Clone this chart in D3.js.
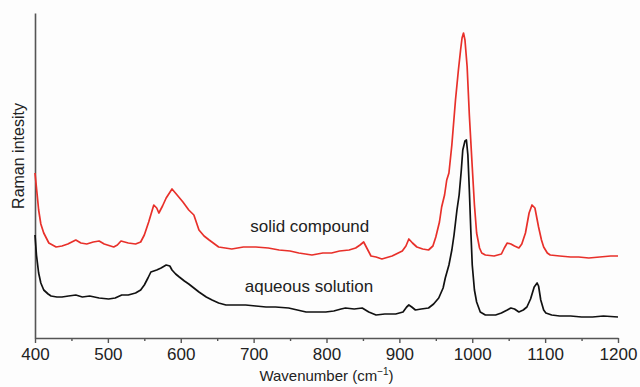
<!DOCTYPE html>
<html>
<head>
<meta charset="utf-8">
<script src="https://cdn.jsdelivr.net/npm/d3@7"></script>
<style>
  html, body { margin: 0; padding: 0; background: #fdfdfd; }
  svg { display: block; font-family: "Liberation Sans", Arial, sans-serif; }
</style>
</head>
<body>
<div id="chart"></div>
<script>
// wavenumber (cm-1) and intensity (a.u.)
const solidWn = [400, 403, 405, 408, 412, 419, 429, 437, 445, 456, 463, 471, 480, 488, 495, 508, 513, 518, 528, 538, 545, 550, 556, 563, 567, 570, 575, 580, 588, 595, 603, 611, 618, 625, 632, 639, 652, 670, 686, 703, 720, 735, 750, 762, 780, 795, 807, 818, 831, 840, 846, 851, 856, 861, 868, 876, 890, 904, 909, 913, 918, 924, 932, 940, 946, 950, 955, 958, 962, 965, 968, 972, 977, 981, 984, 986, 988, 990, 993, 996, 1000, 1003, 1006, 1010, 1013, 1018, 1030, 1040, 1044, 1048, 1053, 1058, 1064, 1068, 1073, 1078, 1082, 1086, 1091, 1095, 1098, 1103, 1107, 1120, 1135, 1146, 1160, 1175, 1190, 1200];
const solidInt = [165, 143, 128, 114, 105, 95, 91, 92, 94, 98, 95, 94, 96, 97, 94, 91, 93, 97, 95, 94, 96, 103, 116, 133, 130, 125, 132, 140, 149, 143, 136, 128, 123, 108, 102, 98, 91, 89, 91, 91, 90, 88, 87, 85, 83, 85, 85, 87, 88, 90, 93, 96, 89, 82, 81, 79, 82, 87, 92, 99, 95, 91, 89, 88, 92, 101, 116, 131, 143, 158, 165, 193, 238, 268, 288, 300, 305, 298, 271, 223, 171, 133, 105, 90, 85, 83, 82, 84, 90, 95, 94, 92, 90, 94, 105, 125, 133, 130, 111, 98, 91, 85, 83, 82, 81, 81, 80, 81, 82, 82];

const aqueousWn = [400, 402, 405, 408, 412, 418, 422, 430, 437, 446, 456, 465, 475, 488, 501, 510, 519, 528, 538, 545, 550, 555, 559, 567, 573, 580, 585, 588, 593, 598, 605, 611, 618, 625, 635, 643, 652, 662, 675, 689, 703, 717, 730, 748, 760, 772, 785, 799, 810, 820, 826, 838, 849, 858, 868, 880, 895, 905, 910, 913, 917, 922, 930, 940, 947, 954, 960, 963, 968, 972, 975, 979, 982, 985, 987, 990, 992, 994, 996, 998, 1000, 1003, 1006, 1011, 1018, 1025, 1032, 1040, 1048, 1053, 1058, 1064, 1070, 1075, 1080, 1085, 1089, 1091, 1094, 1098, 1101, 1109, 1120, 1135, 1150, 1165, 1180, 1200];
const aqueousInt = [103, 83, 65, 55, 48, 44, 42, 41, 41, 42, 43, 41, 42, 40, 39, 40, 43, 43, 45, 48, 53, 60, 66, 68, 70, 73, 72, 68, 64, 61, 57, 54, 50, 46, 41, 38, 35, 33, 33, 33, 32, 31, 31, 30, 28, 26, 26, 26, 27, 29, 30, 29, 30, 26, 23, 24, 24, 26, 31, 33, 31, 28, 29, 30, 34, 40, 50, 60, 73, 88, 103, 128, 143, 168, 188, 197, 198, 183, 148, 108, 73, 48, 36, 26, 23, 23, 23, 25, 28, 30, 29, 26, 28, 31, 39, 51, 55, 52, 38, 28, 25, 23, 22, 22, 21, 21, 22, 21];

const xTicks = [400, 500, 600, 700, 800, 900, 1000, 1100, 1200];
const xMinorTicks = [450, 550, 650, 750, 850, 950, 1050, 1150];

// label anchors in data units (wavenumber, intensity)
const series = [
  { name: 'solid compound', wn: solidWn, val: solidInt, color: '#e8302a', labelAt: [777, 106] },
  { name: 'aqueous solution', wn: aqueousWn, val: aqueousInt, color: '#111111', labelAt: [776, 46] },
];

const width = 640, height = 387;
const margin = { top: 13, right: 22, bottom: 49, left: 35 };

const svg = d3.select('#chart')
  .append('svg')
  .attr('width', width)
  .attr('height', height);

const x = d3.scaleLinear().domain([400, 1200]).range([margin.left, width - margin.right]);
const y = d3.scaleLinear().domain([0, 325]).range([height - margin.bottom, margin.top]);

const axisColor = '#555';

// minor ticks first, then the labelled axis
const minor = svg.append('g')
  .attr('transform', `translate(0,${height - margin.bottom})`)
  .call(d3.axisBottom(x).tickValues(xMinorTicks).tickSize(3).tickSizeOuter(0).tickFormat(''));
minor.select('.domain').remove();
minor.selectAll('line').attr('stroke', axisColor).attr('stroke-width', 1.4);

const xAxis = svg.append('g')
  .attr('transform', `translate(0,${height - margin.bottom})`)
  .call(d3.axisBottom(x).tickValues(xTicks).tickSize(5).tickSizeOuter(0).tickPadding(5).tickFormat(d3.format('d')));
xAxis.select('.domain').attr('stroke', axisColor).attr('stroke-width', 1.6);
xAxis.selectAll('line').attr('stroke', axisColor).attr('stroke-width', 1.4);
xAxis.selectAll('text')
  .attr('font-size', '17px')
  .attr('font-family', '"Liberation Sans", Arial, sans-serif')
  .attr('fill', '#222');

const yAxis = svg.append('g')
  .attr('transform', `translate(${margin.left},0)`)
  .call(d3.axisLeft(y).tickValues([]).tickSizeOuter(0));
yAxis.select('.domain').attr('stroke', axisColor).attr('stroke-width', 1.6);

// axis titles
const xTitle = svg.append('text')
  .attr('x', (margin.left + width - margin.right) / 2)
  .attr('y', 381)
  .attr('text-anchor', 'middle')
  .attr('font-size', '15px')
  .attr('fill', '#222');
xTitle.append('tspan').text('Wavenumber (cm');
xTitle.append('tspan').attr('font-size', '10px').attr('dy', -6).text('−1');
xTitle.append('tspan').attr('dy', 6).text(')');

svg.append('text')
  .attr('transform', 'rotate(-90)')
  .attr('x', -156)
  .attr('y', 24)
  .attr('text-anchor', 'middle')
  .attr('font-size', '16px')
  .attr('fill', '#222')
  .text('Raman intesity');

const line = d3.line()
  .x(d => x(d[0]))
  .y(d => y(d[1]));

series.forEach(s => {
  const pts = s.wn.map((w, i) => [w, s.val[i]]);
  svg.append('path')
    .datum(pts)
    .attr('fill', 'none')
    .attr('stroke', s.color)
    .attr('stroke-width', 1.7)
    .attr('stroke-linejoin', 'round')
    .attr('d', line);

  svg.append('text')
    .attr('x', x(s.labelAt[0]))
    .attr('y', y(s.labelAt[1]))
    .attr('text-anchor', 'middle')
    .attr('font-size', '17px')
    .attr('fill', '#222')
    .text(s.name);
});
</script>
</body>
</html>
